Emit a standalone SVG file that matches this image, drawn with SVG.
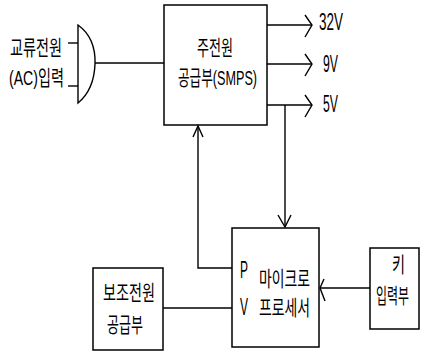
<svg xmlns="http://www.w3.org/2000/svg" width="421" height="353" viewBox="0 0 421 353">
<style>
.b{fill:#fff;stroke:#000;stroke-width:1.5}
.l{fill:none;stroke:#000;stroke-width:1.4}
.t{font-family:"Liberation Sans","Noto Sans CJK KR",sans-serif;font-size:21px;fill:#000}
.v{font-size:23px}
</style>
<rect width="421" height="353" fill="#fff"/>
<g id="ac-input">
<path class="l" d="M78,25 Q96,38 95,64 Q94,90 78,103 Z"/>
<line class="l" x1="68" y1="43" x2="78" y2="43"/>
<line class="l" x1="68" y1="86" x2="78" y2="86"/>
<text class="t" x="10" y="55" textLength="52" lengthAdjust="spacingAndGlyphs">교류전원</text>
<text class="t" x="9" y="85" textLength="55" lengthAdjust="spacingAndGlyphs">(AC)입력</text>
</g>
<g id="smps">
<rect class="b" x="164" y="5" width="103" height="120"/>
<text class="t" x="197" y="55" textLength="36" lengthAdjust="spacingAndGlyphs">주전원</text>
<text class="t" x="178" y="85" textLength="79" lengthAdjust="spacingAndGlyphs">공급부(SMPS)</text>
</g>
<g id="mp">
<rect class="b" x="232" y="228" width="87" height="119"/>
<text class="t v" x="240" y="278" textLength="8" lengthAdjust="spacingAndGlyphs">P</text>
<text class="t v" x="240" y="315" textLength="8" lengthAdjust="spacingAndGlyphs">V</text>
<text class="t" x="259" y="286" textLength="51" lengthAdjust="spacingAndGlyphs">마이크로</text>
<text class="t" x="259" y="315" textLength="51" lengthAdjust="spacingAndGlyphs">프로세서</text>
</g>
<g id="aux">
<rect class="b" x="93" y="268" width="70" height="82"/>
<text class="t" x="103" y="300" textLength="52" lengthAdjust="spacingAndGlyphs">보조전원</text>
<text class="t" x="107" y="332" textLength="36" lengthAdjust="spacingAndGlyphs">공급부</text>
</g>
<g id="key">
<rect class="b" x="370" y="248" width="49" height="81"/>
<text class="t" x="392" y="272" textLength="13" lengthAdjust="spacingAndGlyphs">키</text>
<text class="t" transform="translate(376,303) scale(0.571,1)" x="0" y="0">입력부</text>
</g>
<g id="outputs">
<text class="t v" x="319" y="30" textLength="24" lengthAdjust="spacingAndGlyphs">32V</text>
<text class="t v" x="323" y="72" textLength="15" lengthAdjust="spacingAndGlyphs">9V</text>
<text class="t v" x="323" y="112" textLength="15" lengthAdjust="spacingAndGlyphs">5V</text>
</g>
<g id="connectors">
<line class="l" x1="95" y1="63" x2="164" y2="63"/>
<line class="l" x1="267" y1="25" x2="312" y2="25"/>
<path class="l" d="M305,15 L312,25 L305,37"/>
<line class="l" x1="267" y1="64" x2="312" y2="64"/>
<path class="l" d="M305,54 L312,64 L305,76"/>
<line class="l" x1="267" y1="105" x2="312" y2="105"/>
<path class="l" d="M305,95 L312,105 L305,117"/>
<line class="l" x1="285" y1="105" x2="285" y2="227"/>
<path class="l" d="M278,215 L285,227 L291,215"/>
<path class="l" d="M232,268 L198,268 L198,126"/>
<path class="l" d="M193,137 L198,126 L203,137"/>
<line class="l" x1="163" y1="308" x2="232" y2="308"/>
<line class="l" x1="370" y1="288" x2="320" y2="288"/>
<path class="l" d="M324,279 L320,288 L325,301"/>
</g>
</svg>
